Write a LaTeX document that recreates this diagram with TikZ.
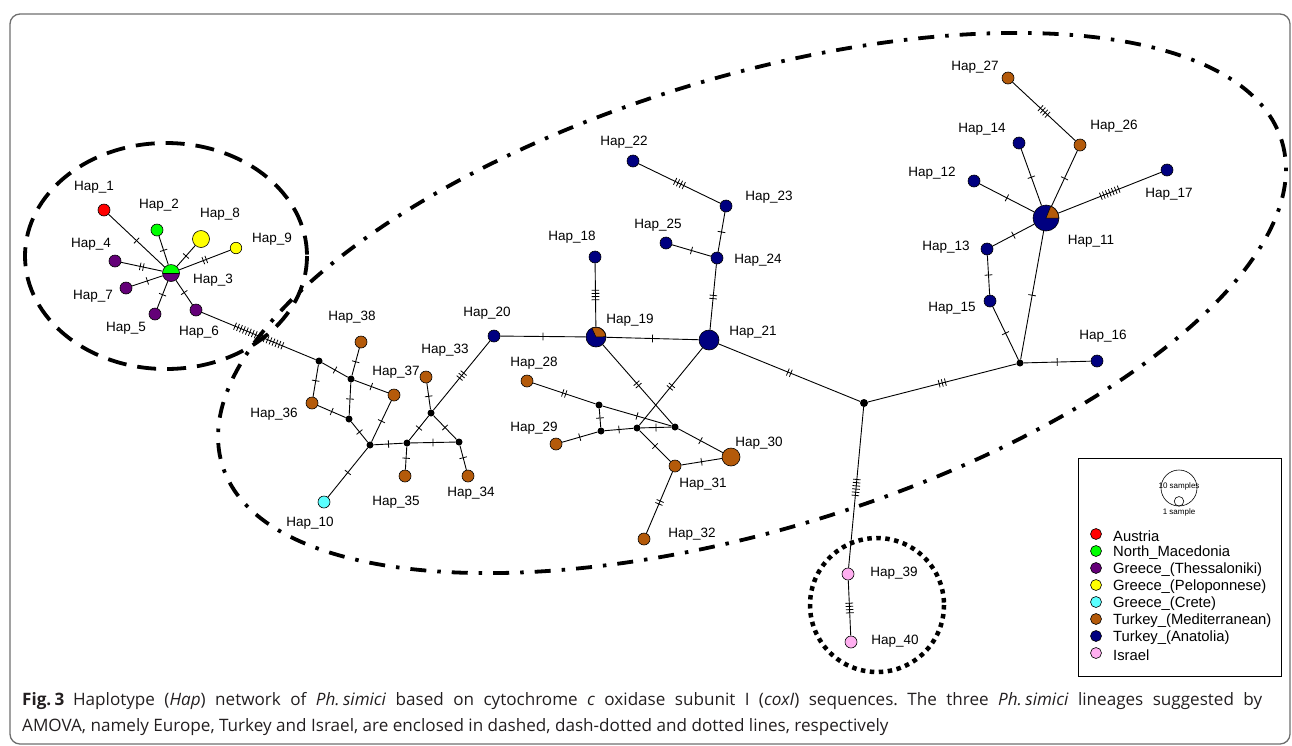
\documentclass[tikz,border=0pt]{standalone}
\usepackage{fontspec}
\setmainfont{Liberation Sans}
\newfontfamily\capfont{Open Sans}
\usetikzlibrary{decorations.markings}
\definecolor{cAus}{RGB}{255,0,0}
\definecolor{cMac}{RGB}{0,255,0}
\definecolor{cThe}{RGB}{100,0,120}
\definecolor{cPel}{RGB}{255,255,0}
\definecolor{cCre}{RGB}{90,255,255}
\definecolor{cMed}{RGB}{180,90,10}
\definecolor{cAna}{RGB}{0,0,128}
\definecolor{cIsr}{RGB}{255,175,240}
\definecolor{frameg}{RGB}{110,110,110}
\definecolor{captxt}{RGB}{35,31,32}
\tikzset{
 hap/.style={circle,draw=black,line width=0.6pt,minimum size=12pt,inner sep=0pt},
 mv/.style={circle,fill=black,minimum size=7pt,inner sep=0pt},
 lab/.style={font=\fontsize{13.5}{14}\selectfont,inner sep=0pt},
 edge/.style={line width=0.9pt},
 ticks/.style={postaction={decorate,decoration={markings,mark=at position 0.5 with {\foreach \k in {1,...,#1}{\draw[line width=0.8pt] ({(\k-(#1+1)/2)*3.2pt},-3.8pt) -- ++(0pt,7.6pt);}}}}},
}
\frenchspacing
\begin{document}
\begin{tikzpicture}[x=1pt,y=-1pt]
\useasboundingbox (0,0) rectangle (1292,745);
% frame
\draw[frameg,line width=1.3pt,rounded corners=10pt] (10,14) rectangle (1290,744);
% lineage enclosures
\draw[line width=3.8pt,dash pattern=on 19pt off 11pt] (166,256) ellipse [x radius=141, y radius=113];
\draw[line width=3.8pt,dash pattern=on 16pt off 11pt on 3.5pt off 11pt,rotate around={17:(752,303)}] (752,303) ellipse [x radius=554, y radius=226];
\draw[line width=4.5pt,dash pattern=on 4.5pt off 4.5pt] (877,605) circle [radius=67];
% haplotype nodes
\node[hap,fill=cAus] (h1) at (104,210) {};
\node[hap,fill=cMac] (h2) at (157,230) {};
\node[hap,fill=cPel,minimum size=17pt] (h8) at (201,239) {};
\node[hap,fill=cPel,minimum size=11.5pt] (h9) at (236,248) {};
\node[hap,minimum size=17pt,path picture={\fill[cMac] (path picture bounding box.west) rectangle (path picture bounding box.north east);\fill[cThe] (path picture bounding box.west) rectangle (path picture bounding box.south east);\draw[line width=0.6pt] (path picture bounding box.west) -- (path picture bounding box.east);}] (h3) at (171,273) {};
\node[hap,fill=cThe] (h4) at (115,261) {};
\node[hap,fill=cThe] (h7) at (126,288) {};
\node[hap,fill=cThe] (h5) at (155,314) {};
\node[hap,fill=cThe] (h6) at (196,310) {};
\node[mv] (m1) at (319,361) {};
\node[hap,fill=cMed] (h38) at (361,342) {};
\node[mv] (m2) at (351,379) {};
\node[hap,fill=cMed] (h37) at (394,395) {};
\node[hap,fill=cMed] (h36) at (312,403) {};
\node[mv] (m3) at (349,419) {};
\node[mv] (m4) at (370,445) {};
\node[hap,fill=cCre] (h10) at (324,502) {};
\node[mv] (m5) at (407,443) {};
\node[hap,fill=cMed] (h35) at (405,476) {};
\node[mv] (m6) at (431,413) {};
\node[hap,fill=cMed] (h33) at (426,377) {};
\node[mv] (m7) at (459,442) {};
\node[hap,fill=cMed] (h34) at (468,476) {};
\node[hap,fill=cAna] (h20) at (494,336) {};
\node[hap,fill=cAna] (h22) at (633,161) {};
\node[hap,fill=cAna] (h23) at (726,206) {};
\node[hap,fill=cAna] (h25) at (666,243) {};
\node[hap,fill=cAna] (h24) at (717,258) {};
\node[hap,fill=cAna] (h18) at (595,257) {};
\node[hap,fill=cAna,minimum size=20pt] (h19) at (596,337) {};
\node[hap,fill=cAna,minimum size=20pt] (h21) at (709,340) {};
\node[hap,fill=cMed] (h28) at (527,381) {};
\node[mv] (m8) at (599,405) {};
\node[mv] (m9) at (601,431) {};
\node[mv] (m10) at (637,428) {};
\node[mv] (m11) at (675,427) {};
\node[hap,fill=cMed] (h29) at (556,444) {};
\node[hap,fill=cMed,minimum size=18pt] (h30) at (731,457) {};
\node[hap,fill=cMed] (h31) at (675,466) {};
\node[hap,fill=cMed] (h32) at (644,539) {};
\node[hap,fill=cMed] (h27) at (1008,78) {};
\node[hap,fill=cMed] (h26) at (1080,145) {};
\node[hap,fill=cAna] (h14) at (1019,143) {};
\node[hap,fill=cAna] (h12) at (974,181) {};
\node[hap,fill=cAna] (h17) at (1167,170) {};
\node[hap,fill=cAna,minimum size=26pt] (h11) at (1046,218) {};
\node[hap,fill=cAna] (h13) at (987,249) {};
\node[hap,fill=cAna] (h15) at (990,301) {};
\node[hap,fill=cAna] (h16) at (1097,361) {};
\node[mv] (m12) at (1020,363) {};
\node[mv,minimum size=8pt] (m13) at (864,403) {};
\node[hap,fill=cIsr] (h39) at (848,574) {};
\node[hap,fill=cIsr] (h40) at (851,642) {};
% pie wedges
\filldraw[cMed,draw=black,line width=0.5pt,shift={(h19.center)}] (0,0) -- plot[domain=2:115,samples=30] ({9.6*cos(\x)},{-9.6*sin(\x)}) -- cycle;
\filldraw[cMed,draw=black,line width=0.5pt,shift={(h11.center)}] (0,0) -- plot[domain=0:68,samples=30] ({12.6*cos(\x)},{-12.6*sin(\x)}) -- cycle;
% edges
\draw[edge,ticks=1] (h1) -- (h3);
\draw[edge,ticks=1] (h2) -- (h3);
\draw[edge,ticks=1] (h8) -- (h3);
\draw[edge,ticks=2] (h9) -- (h3);
\draw[edge,ticks=2] (h4) -- (h3);
\draw[edge,ticks=1] (h7) -- (h3);
\draw[edge,ticks=1] (h5) -- (h3);
\draw[edge,ticks=1] (h6) -- (h3);
\draw[edge,ticks=17] (h6) -- (m1);
\draw[edge,ticks=1] (m1) -- (m2);
\draw[edge,ticks=1] (m1) -- (h36);
\draw[edge,ticks=1] (h38) -- (m2);
\draw[edge,ticks=1] (m2) -- (h37);
\draw[edge,ticks=1] (m2) -- (m3);
\draw[edge,ticks=1] (h36) -- (m3);
\draw[edge,ticks=1] (m3) -- (m4);
\draw[edge,ticks=1] (h37) -- (m4);
\draw[edge,ticks=1] (m4) -- (h10);
\draw[edge,ticks=1] (m4) -- (m5);
\draw[edge,ticks=1] (m5) -- (h35);
\draw[edge,ticks=1] (m5) -- (m6);
\draw[edge,ticks=1] (m5) -- (m7);
\draw[edge,ticks=1] (m6) -- (m7);
\draw[edge,ticks=1] (m6) -- (h33);
\draw[edge,ticks=3] (m6) -- (h20);
\draw[edge,ticks=1] (m7) -- (h34);
\draw[edge,ticks=1] (h20) -- (h19);
\draw[edge,ticks=4] (h18) -- (h19);
\draw[edge,ticks=1] (h19) -- (h21);
\draw[edge,ticks=4] (h22) -- (h23);
\draw[edge,ticks=1] (h23) -- (h24);
\draw[edge,ticks=1] (h25) -- (h24);
\draw[edge,ticks=2] (h24) -- (h21);
\draw[edge,ticks=2] (h21) -- (m13);
\draw[edge,ticks=2] (h28) -- (m8);
\draw[edge,ticks=1] (m8) -- (m9);
\draw[edge,ticks=1] (m8) -- (m11);
\draw[edge,ticks=1] (h29) -- (m9);
\draw[edge,ticks=1] (m9) -- (m10);
\draw[edge,ticks=1] (m10) -- (m11);
\draw[edge,ticks=2] (m10) -- (h21);
\draw[edge,ticks=2] (h19) -- (m11);
\draw[edge,ticks=1] (m11) -- (h30);
\draw[edge,ticks=1] (m10) -- (h31);
\draw[edge,ticks=1] (h31) -- (h30);
\draw[edge,ticks=2] (h31) -- (h32);
\draw[edge,ticks=4] (h27) -- (h26);
\draw[edge,ticks=1] (h26) -- (h11);
\draw[edge,ticks=1] (h14) -- (h11);
\draw[edge,ticks=1] (h12) -- (h11);
\draw[edge,ticks=7] (h17) -- (h11);
\draw[edge,ticks=1] (h13) -- (h11);
\draw[edge,ticks=1] (h13) -- (h15);
\draw[edge,ticks=1] (h15) -- (m12);
\draw[edge,ticks=1] (h11) -- (m12);
\draw[edge,ticks=1] (m12) -- (h16);
\draw[edge,ticks=3] (m12) -- (m13);
\draw[edge,ticks=6] (m13) -- (h39);
\draw[edge,ticks=4] (h39) -- (h40);
% labels
\node[lab] (l1) at (94,187) {Hap\_1};
\node[lab] (l2) at (159,205) {Hap\_2};
\node[lab] (l8) at (220,214) {Hap\_8};
\node[lab] (l9) at (272,239) {Hap\_9};
\node[lab] (l4) at (91,244) {Hap\_4};
\node[lab] (l3) at (213,280) {Hap\_3};
\node[lab] (l7) at (93,296) {Hap\_7};
\node[lab] (l5) at (126,328) {Hap\_5};
\node[lab] (l6) at (199,332) {Hap\_6};
\node[lab] (l38) at (352,317) {Hap\_38};
\node[lab] (l37) at (396,372) {Hap\_37};
\node[lab] (l36) at (274,414) {Hap\_36};
\node[lab] (l33) at (445,350) {Hap\_33};
\node[lab] (l20) at (487,313) {Hap\_20};
\node[lab] (l35) at (396,502) {Hap\_35};
\node[lab] (l34) at (471,493) {Hap\_34};
\node[lab] (l10) at (310,523) {Hap\_10};
\node[lab] (l22) at (624,142) {Hap\_22};
\node[lab] (l23) at (769,197) {Hap\_23};
\node[lab] (l25) at (658,225) {Hap\_25};
\node[lab] (l24) at (758,260) {Hap\_24};
\node[lab] (l18) at (572,237) {Hap\_18};
\node[lab] (l19) at (630,320) {Hap\_19};
\node[lab] (l21) at (753,332) {Hap\_21};
\node[lab] (l28) at (534,363) {Hap\_28};
\node[lab] (l29) at (534,428) {Hap\_29};
\node[lab] (l30) at (759,443) {Hap\_30};
\node[lab] (l31) at (703,484) {Hap\_31};
\node[lab] (l32) at (692,534) {Hap\_32};
\node[lab] (l27) at (975,67) {Hap\_27};
\node[lab] (l26) at (1114,126) {Hap\_26};
\node[lab] (l14) at (982,129) {Hap\_14};
\node[lab] (l12) at (932,173) {Hap\_12};
\node[lab] (l17) at (1169,194) {Hap\_17};
\node[lab] (l11) at (1091,241) {Hap\_11};
\node[lab] (l13) at (946,247) {Hap\_13};
\node[lab] (l15) at (952,308) {Hap\_15};
\node[lab] (l16) at (1103,336) {Hap\_16};
\node[lab] (l39) at (894,573) {Hap\_39};
\node[lab] (l40) at (895,641) {Hap\_40};
% legend
\node[draw=black,line width=0.8pt,minimum width=203pt,minimum height=218pt,inner sep=0pt] (leg) at (1179.5,567) {};
\node[circle,draw=black,line width=0.6pt,minimum size=36pt,inner sep=0pt] (s10) at (1179,488) {};
\node[circle,draw=black,line width=0.6pt,minimum size=9.5pt,inner sep=0pt] (s1) at (1179,501.3) {};
\node[inner sep=0pt,font=\fontsize{8}{8}\selectfont] (t10) at (1179,486) {10 samples};
\node[inner sep=0pt,font=\fontsize{8}{8}\selectfont] (t1) at (1179,512) {1 sample};
\foreach \c/\t [count=\i] in {cAus/Austria,cMac/North\_Macedonia,cThe/Greece\_(Thessaloniki),cPel/Greece\_(Peloponnese),cCre/Greece\_(Crete),cMed/Turkey\_(Mediterranean),cAna/Turkey\_(Anatolia),cIsr/Israel}{
  \node[hap,fill=\c,minimum size=11pt] (k\i) at (1096,{517+17*\i}) {};
  \node[anchor=west,inner sep=0pt,font=\fontsize{14.8}{15}\selectfont] (kt\i) at (1113,{519+17*\i}) {\t};
}
% caption
\node[anchor=west,inner sep=0pt,text=captxt,font=\capfont\fontsize{17.1}{20}\selectfont] (cap1) at (22,701) {\makebox[1240pt][s]{\textbf{Fig.\kern0.2em3}\enspace Haplotype (\textit{Hap}) network of \textit{Ph.\kern0.2em simici} based on cytochrome \textit{c} oxidase subunit I (\textit{coxI}) sequences. The three \textit{Ph.\kern0.2em simici} lineages suggested by}};
\node[anchor=west,inner sep=0pt,text=captxt,font=\capfont\fontsize{17.1}{20}\selectfont] (cap2) at (22,727) {AMOVA, namely Europe, Turkey and Israel, are enclosed in dashed, dash-dotted and dotted lines, respectively};
\end{tikzpicture}
\end{document}
